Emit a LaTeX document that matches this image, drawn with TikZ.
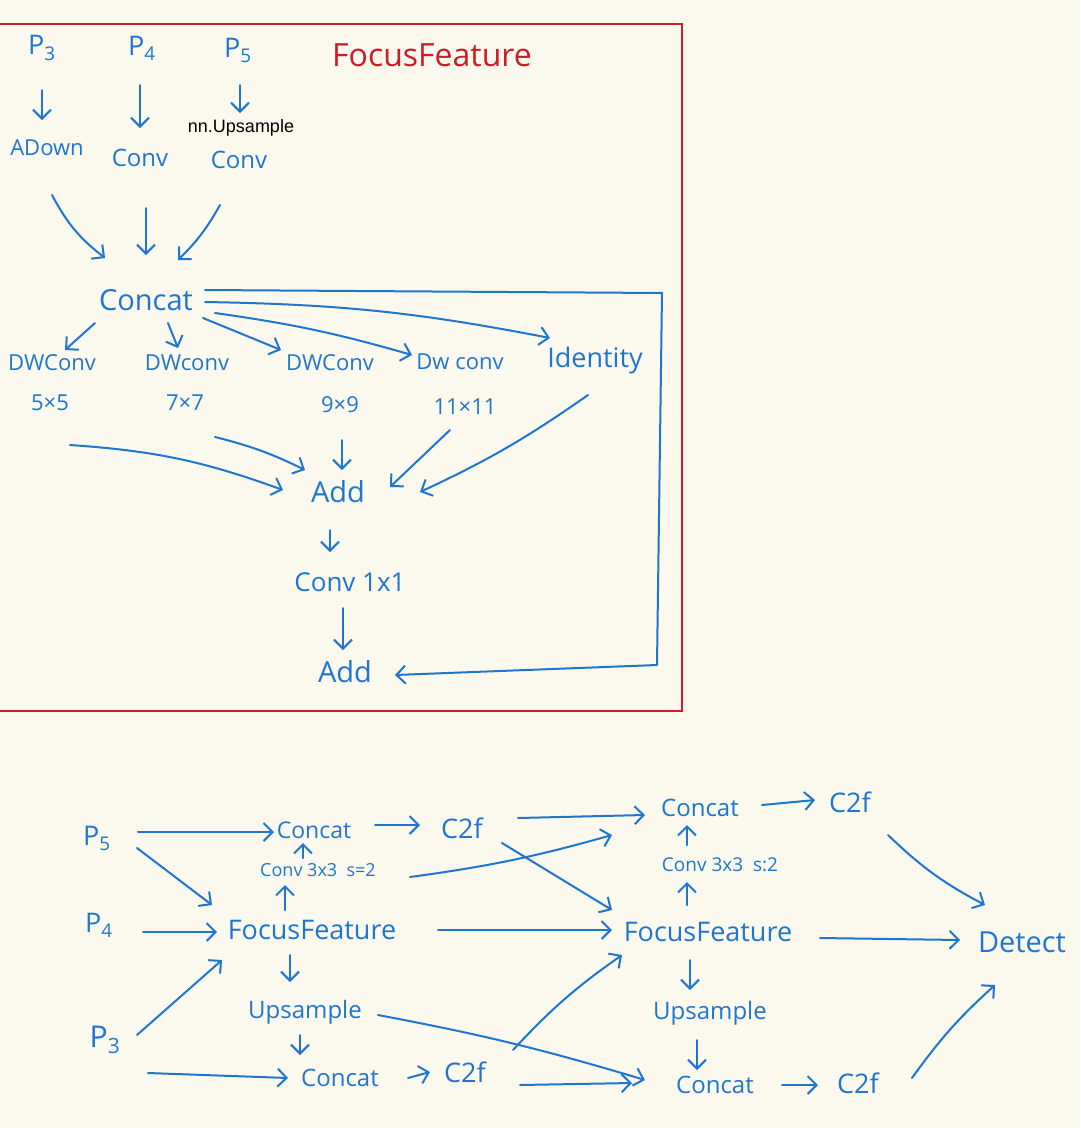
\documentclass[tikz,border=0pt]{standalone}
\usepackage{fontspec}
\setmainfont{Open Sans}
\newfontfamily\typedfont{Liberation Sans}
\usetikzlibrary{arrows.meta}
\definecolor{pen}{RGB}{30,118,206}
\definecolor{redink}{RGB}{206,28,40}
\definecolor{paper}{RGB}{251,248,238}
\begin{document}
\begin{tikzpicture}[x=1pt,y=-1pt,
  lbl/.style={text=pen, inner sep=0pt, font=\fontsize{24}{28}\selectfont},
  big/.style={lbl, font=\fontsize{29}{32}\selectfont},
  small/.style={lbl, font=\fontsize{22}{26}\selectfont},
  arr/.style={draw=pen, line width=2pt, line cap=round, line join=round,
    -{Straight Barb[length=9pt,width=18pt]}},
  pline/.style={draw=pen, line width=2pt, line cap=round, line join=round}]
\fill[paper] (0,0) rectangle (1080,1128);
\useasboundingbox (0,0) rectangle (1080,1128);
% frame
\draw[redink, line width=2pt] (-10,24) rectangle (682,711);
\node[text=redink, inner sep=0pt, font=\fontsize{32}{36}\selectfont] (title) at (432,55) {FocusFeature};
% ---------- top: FocusFeature module ----------
\node[lbl, font=\fontsize{27}{30}\selectfont] (P3) at (42,48) {P\textsubscript{3}};
\node[lbl, font=\fontsize{27}{30}\selectfont] (P4) at (142,48) {P\textsubscript{4}};
\node[lbl, font=\fontsize{27}{30}\selectfont] (P5) at (238,50) {P\textsubscript{5}};
\node[text=black, inner sep=0pt, font=\typedfont\fontsize{18}{20}\selectfont] (nnUp) at (241,128) {nn.Upsample};
\node[lbl, font=\fontsize{22}{26}\selectfont] (ADown) at (47,148) {ADown};
\node[lbl] (Conv4) at (140,158) {Conv};
\node[lbl] (Conv5) at (239,160) {Conv};
\node[big] (Concat) at (146,300) {Concat};
\node[lbl, font=\fontsize{22}{26}\selectfont] (DW5) at (52,363) {DWConv};
\node[lbl, font=\fontsize{22}{26}\selectfont] (DW7) at (187,363) {DWconv};
\node[lbl, font=\fontsize{22}{26}\selectfont] (DW9) at (330,363) {DWConv};
\node[lbl, font=\fontsize{22}{26}\selectfont] (DW11) at (460,362) {Dw conv};
\node[lbl, font=\fontsize{27}{30}\selectfont] (Ident) at (595,360) {Identity};
\node[small] (k5) at (50,403) {5×5};
\node[small] (k7) at (185,403) {7×7};
\node[small] (k9) at (340,405) {9×9};
\node[small] (k11) at (465,407) {11×11};
\node[big] (Add1) at (338,492) {Add};
\node[lbl, font=\fontsize{26}{30}\selectfont] (Conv1) at (350,582) {Conv 1x1};
\node[big] (Add2) at (345,672) {Add};
% top arrows
\draw[arr] ([shift={(0,42)}]P3.center) -- ([shift={(-5,-28)}]ADown.center);
\draw[arr] ([shift={(-2,37)}]P4.center) -- ([shift={(0,-30)}]Conv4.center);
\draw[arr] ([shift={(2,35)}]P5.center) -- ([shift={(-1,-15)}]nnUp.center);
\draw[arr] ([shift={(5,47)}]ADown.center) to[bend right=12] ([shift={(-41,-42)}]Concat.center);
\draw[arr] ([shift={(6,50)}]Conv4.center) -- ([shift={(0,-45)}]Concat.center);
\draw[arr] ([shift={(-19,45)}]Conv5.center) to[bend left=8] ([shift={(32,-40)}]Concat.center);
\draw[arr] ([shift={(-51,23)}]Concat.center) -- ([shift={(13,-13)}]DW5.center);
\draw[arr] ([shift={(22,23)}]Concat.center) -- ([shift={(-9,-15)}]DW7.center);
\draw[arr] ([shift={(57,18)}]Concat.center) -- ([shift={(-49,-13)}]DW9.center);
\draw[arr] ([shift={(69,13)}]Concat.center) to[bend left=4] ([shift={(-48,-7)}]DW11.center);
\draw[arr] ([shift={(59,2)}]Concat.center) to[bend left=5] ([shift={(-45,-22)}]Ident.center);
\draw[arr] ([shift={(59,-10)}]Concat.center) -- (662,293) -- (657,665) -- ([shift={(50,3)}]Add2.center);
\draw[arr] ([shift={(20,42)}]k5.center) to[bend left=8] ([shift={(-55,-2)}]Add1.center);
\draw[arr] ([shift={(30,34)}]k7.center) to[bend left=6] ([shift={(-33,-22)}]Add1.center);
\draw[arr] ([shift={(2,35)}]k9.center) -- ([shift={(4,-22)}]Add1.center);
\draw[arr] ([shift={(-15,23)}]k11.center) -- ([shift={(52,-5)}]Add1.center);
\draw[arr] ([shift={(-7,35)}]Ident.center) to[bend left=5] ([shift={(82,0)}]Add1.center);
\draw[arr] ([shift={(-8,38)}]Add1.center) -- ([shift={(-20,-30)}]Conv1.center);
\draw[arr] ([shift={(-7,26)}]Conv1.center) -- ([shift={(-2,-22)}]Add2.center);
% ---------- bottom: neck ----------
\node[lbl, font=\fontsize{27}{30}\selectfont] (bP5) at (97,838) {P\textsubscript{5}};
\node[lbl, font=\fontsize{27}{30}\selectfont] (bP4) at (99,925) {P\textsubscript{4}};
\node[lbl, font=\fontsize{30}{34}\selectfont] (bP3) at (105,1040) {P\textsubscript{3}};
\node[lbl, font=\fontsize{23}{26}\selectfont] (Cc1) at (314,830) {Concat};
\node[lbl, font=\fontsize{27}{30}\selectfont] (Cf1) at (462,828) {C2f};
\node[lbl, font=\fontsize{18}{22}\selectfont] (Cv1) at (318,870) {Conv 3x3 \ s=2};
\node[lbl, font=\fontsize{27}{30}\selectfont] (FF1) at (312,930) {FocusFeature};
\node[lbl] (Up1) at (305,1012) {Upsample};
\node[lbl, font=\fontsize{24}{28}\selectfont] (Cc2) at (340,1078) {Concat};
\node[lbl, font=\fontsize{27}{30}\selectfont] (Cf2) at (465,1072) {C2f};
\node[lbl, font=\fontsize{24}{28}\selectfont] (Cc3) at (700,808) {Concat};
\node[lbl, font=\fontsize{27}{30}\selectfont] (Cf3) at (850,802) {C2f};
\node[lbl, font=\fontsize{19}{22}\selectfont] (Cv2) at (720,865) {Conv 3x3 \ s:2};
\node[lbl, font=\fontsize{27}{30}\selectfont] (FF2) at (708,932) {FocusFeature};
\node[lbl] (Up2) at (710,1013) {Upsample};
\node[lbl, font=\fontsize{24}{28}\selectfont] (Cc4) at (715,1085) {Concat};
\node[lbl, font=\fontsize{27}{30}\selectfont] (Cf4) at (858,1083) {C2f};
\node[lbl, font=\fontsize{29}{32}\selectfont] (Det) at (1022,942) {Detect};
% bottom arrows, left part
\draw[arr] ([shift={(41,-6)}]bP5.center) -- ([shift={(-40,2)}]Cc1.center);
\draw[arr] ([shift={(40,10)}]bP5.center) -- ([shift={(-100,-25)}]FF1.center);
\draw[arr] ([shift={(44,7)}]bP4.center) -- ([shift={(-95,2)}]FF1.center);
\draw[arr] ([shift={(32,-5)}]bP3.center) -- ([shift={(-90,30)}]FF1.center);
\draw[arr] ([shift={(43,33)}]bP3.center) -- ([shift={(-52,0)}]Cc2.center);
\draw[arr] ([shift={(-27,-20)}]FF1.center) -- ([shift={(-33,15)}]Cv1.center);
\draw[arr] ([shift={(-15,-12)}]Cv1.center) -- ([shift={(-11,13)}]Cc1.center);
\draw[arr] ([shift={(-22,25)}]FF1.center) -- ([shift={(-15,-30)}]Up1.center);
\draw[arr] ([shift={(-5,23)}]Up1.center) -- ([shift={(-40,-23)}]Cc2.center);
\draw[arr] ([shift={(61,-5)}]Cc1.center) -- ([shift={(-42,-3)}]Cf1.center);
\draw[arr] ([shift={(68,0)}]Cc2.center) -- ([shift={(-35,0)}]Cf2.center);
% bottom arrows, middle part
\draw[arr] ([shift={(56,-10)}]Cf1.center) -- ([shift={(-55,7)}]Cc3.center);
\draw[arr] ([shift={(92,7)}]Cv1.center) to[bend right=4] ([shift={(-88,27)}]Cc3.center);
\draw[arr] ([shift={(40,15)}]Cf1.center) -- ([shift={(-96,-22)}]FF2.center);
\draw[arr] ([shift={(126,0)}]FF1.center) -- ([shift={(-96,-2)}]FF2.center);
\draw[arr] ([shift={(48,-22)}]Cf2.center) to[bend left=6] ([shift={(-86,23)}]FF2.center);
\draw[arr] ([shift={(73,3)}]Up1.center) to[bend left=3] ([shift={(-70,-5)}]Cc4.center);
\draw[arr] ([shift={(55,13)}]Cf2.center) -- ([shift={(-83,-2)}]Cc4.center);
% bottom arrows, right part
\draw[arr] ([shift={(62,-3)}]Cc3.center) -- ([shift={(-35,-2)}]Cf3.center);
\draw[arr] ([shift={(-33,-20)}]Cv2.center) -- ([shift={(-13,17)}]Cc3.center);
\draw[arr] ([shift={(-21,-27)}]FF2.center) -- ([shift={(-33,17)}]Cv2.center);
\draw[arr] ([shift={(-18,28)}]FF2.center) -- ([shift={(-20,-23)}]Up2.center);
\draw[arr] ([shift={(-13,27)}]Up2.center) -- ([shift={(-18,-15)}]Cc4.center);
\draw[arr] ([shift={(67,0)}]Cc4.center) -- ([shift={(-40,2)}]Cf4.center);
\draw[arr] ([shift={(38,33)}]Cf3.center) to[bend right=8] ([shift={(-37,-37)}]Det.center);
\draw[arr] ([shift={(112,6)}]FF2.center) -- ([shift={(-62,-2)}]Det.center);
\draw[arr] ([shift={(54,-5)}]Cf4.center) to[bend left=6] ([shift={(-27,43)}]Det.center);
\end{tikzpicture}
\end{document}
